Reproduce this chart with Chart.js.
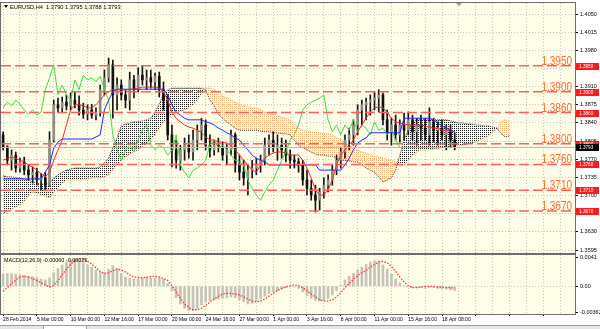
<!DOCTYPE html>
<html><head><meta charset="utf-8">
<script src="https://cdn.jsdelivr.net/npm/chart.js@4.4.1/dist/chart.umd.min.js"></script>
<style>
html,body{margin:0;padding:0;background:#fff;width:600px;height:329px;overflow:hidden;}
#wrap{position:relative;width:600px;height:329px;}
canvas{position:absolute;left:0;}
#main{top:0;width:600px;height:254px;}
#macd{top:254px;width:600px;height:71px;}
#tabs{position:absolute;left:0;top:325px;width:600px;height:4px;background:#e6e6e6;border-top:1px solid #9a9a9a;}
#tab1{position:absolute;left:43px;top:0;width:42px;height:4px;background:#fff;border-left:1px solid #9a9a9a;border-right:1px solid #9a9a9a;}
</style></head><body>
<div id="wrap">
<canvas id="main" width="600" height="254"></canvas>
<canvas id="macd" width="600" height="71"></canvas>
<div id="tabs"><div id="tab1"></div></div>
</div>
<script>
// ---------- labels / ticks ----------
const dateLabels = ['28 Feb 2014','5 Mar 00:00','10 Mar 00:00','12 Mar 16:00','17 Mar 00:00','20 Mar 00:00','24 Mar 16:00','27 Mar 00:00','1 Apr 00:00','3 Apr 16:00','8 Apr 00:00','11 Apr 00:00','15 Apr 16:00','18 Apr 08:00'];
const priceTicks = [1.3595,1.3630,1.3665,1.3700,1.3735,1.3770,1.3805,1.3840,1.3875,1.3910,1.3945,1.3980,1.4015,1.4050];
const levels = [1.3950,1.3900,1.3860,1.3800,1.3760,1.3710,1.3670];
const currentPrice = 1.3793;
const macdTickValues = [-0.00362, 0, 0.0041];
const macdTickLabels = ['-0.00362','0.00','0.0041'];
const titleText = 'EURUSD,H4  1.3790 1.3795 1.3788 1.3793';
const macdTitle = 'MACD(12,26,9) -0.00060 -0.00025';
const chikouShift = 13;   // 26 H4 bars (each candle here = 2 bars)
const slots = 136;
const shiftMarkerIndex = 108;

// ---------- candles ----------
const opens = [
1.3817,1.3794,1.3768,1.3778,1.3753,1.3765,1.3749,1.3740,1.3745,1.3730,
1.3734,1.3720,1.3807,1.3875,1.3869,1.3880,1.3873,1.3884,1.3876,1.3865,
1.3857,1.3865,1.3855,1.3861,1.3904,1.3927,1.3952,1.3894,1.3913,1.3894,
1.3884,1.3923,1.3904,1.3932,1.3923,1.3927,1.3919,1.3930,1.3904,1.3884,
1.3817,1.3788,1.3768,1.3788,1.3797,1.3784,1.3807,1.3826,1.3836,1.3797,
1.3788,1.3797,1.3792,1.3778,1.3788,1.3817,1.3759,1.3745,1.3734,1.3749,
1.3753,1.3759,1.3768,1.3797,1.3807,1.3792,1.3797,1.3788,1.3778,1.3768,
1.3765,1.3759,1.3730,1.3714,1.3701,1.3691,1.3707,1.3720,1.3730,1.3749,
1.3768,1.3784,1.3807,1.3817,1.3836,1.3865,1.3875,1.3880,1.3884,1.3888,
1.3894,1.3846,1.3823,1.3836,1.3817,1.3836,1.3826,1.3846,1.3823,1.3836,
1.3830,1.3817,1.3842,1.3826,1.3830,1.3817,1.3826,1.3807];
const highs = [
1.3823,1.3796,1.3788,1.3784,1.3772,1.3774,1.3759,1.3755,1.3753,1.3743,
1.3745,1.3823,1.3884,1.3888,1.3890,1.3894,1.3898,1.3900,1.3892,1.3878,
1.3875,1.3876,1.3869,1.3913,1.3942,1.3965,1.3961,1.3927,1.3923,1.3904,
1.3938,1.3932,1.3946,1.3950,1.3942,1.3942,1.3936,1.3938,1.3919,1.3894,
1.3836,1.3807,1.3797,1.3811,1.3817,1.3826,1.3836,1.3849,1.3846,1.3817,
1.3807,1.3811,1.3803,1.3801,1.3826,1.3821,1.3778,1.3768,1.3759,1.3768,
1.3772,1.3778,1.3811,1.3817,1.3823,1.3817,1.3811,1.3807,1.3788,1.3778,
1.3772,1.3768,1.3749,1.3730,1.3720,1.3714,1.3734,1.3740,1.3759,1.3778,
1.3792,1.3817,1.3830,1.3846,1.3875,1.3884,1.3888,1.3894,1.3900,1.3904,
1.3898,1.3865,1.3849,1.3855,1.3846,1.3859,1.3861,1.3855,1.3849,1.3855,
1.3849,1.3869,1.3849,1.3842,1.3846,1.3836,1.3836,1.3821];
const lows = [
1.3788,1.3759,1.3749,1.3745,1.3745,1.3740,1.3730,1.3724,1.3720,1.3711,
1.3709,1.3718,1.3803,1.3861,1.3861,1.3865,1.3865,1.3869,1.3855,1.3849,
1.3846,1.3849,1.3846,1.3853,1.3894,1.3919,1.3849,1.3865,1.3884,1.3869,
1.3865,1.3888,1.3900,1.3913,1.3904,1.3907,1.3904,1.3890,1.3865,1.3807,
1.3755,1.3753,1.3749,1.3768,1.3772,1.3768,1.3788,1.3807,1.3788,1.3774,
1.3778,1.3784,1.3768,1.3759,1.3778,1.3745,1.3730,1.3720,1.3701,1.3734,
1.3740,1.3745,1.3759,1.3778,1.3784,1.3768,1.3772,1.3765,1.3753,1.3753,
1.3745,1.3720,1.3701,1.3691,1.3668,1.3672,1.3695,1.3707,1.3720,1.3740,
1.3753,1.3772,1.3788,1.3797,1.3817,1.3836,1.3846,1.3855,1.3865,1.3861,
1.3836,1.3807,1.3797,1.3807,1.3803,1.3807,1.3817,1.3807,1.3797,1.3807,
1.3807,1.3797,1.3803,1.3797,1.3807,1.3788,1.3792,1.3788];
const closes = [
1.3794,1.3768,1.3778,1.3753,1.3765,1.3749,1.3740,1.3745,1.3730,1.3734,
1.3720,1.3807,1.3875,1.3869,1.3880,1.3873,1.3884,1.3876,1.3865,1.3857,
1.3865,1.3855,1.3861,1.3904,1.3927,1.3952,1.3894,1.3913,1.3894,1.3884,
1.3923,1.3904,1.3932,1.3923,1.3927,1.3919,1.3930,1.3904,1.3884,1.3817,
1.3788,1.3768,1.3788,1.3797,1.3784,1.3807,1.3826,1.3836,1.3797,1.3788,
1.3797,1.3792,1.3778,1.3788,1.3817,1.3759,1.3745,1.3734,1.3749,1.3753,
1.3759,1.3768,1.3797,1.3807,1.3792,1.3797,1.3788,1.3778,1.3768,1.3765,
1.3759,1.3730,1.3714,1.3701,1.3691,1.3707,1.3720,1.3730,1.3749,1.3768,
1.3784,1.3807,1.3817,1.3836,1.3865,1.3875,1.3880,1.3884,1.3888,1.3894,
1.3846,1.3823,1.3836,1.3817,1.3836,1.3826,1.3846,1.3823,1.3836,1.3830,
1.3817,1.3842,1.3826,1.3830,1.3817,1.3826,1.3807,1.3793];

// ---------- Ichimoku ----------
const tenkan = [
1.3768,1.3772,1.3774,1.3772,1.3768,1.3765,1.3759,1.3755,1.3749,1.3742,
1.3736,1.3745,1.3768,1.3788,1.3807,1.3836,1.3865,1.3875,1.3875,1.3873,
1.3869,1.3869,1.3875,1.3884,1.3894,1.3900,1.3904,1.3904,1.3904,1.3904,
1.3904,1.3905,1.3907,1.3909,1.3909,1.3909,1.3909,1.3907,1.3900,1.3884,
1.3861,1.3849,1.3842,1.3836,1.3832,1.3830,1.3826,1.3821,1.3813,1.3807,
1.3807,1.3803,1.3803,1.3801,1.3797,1.3788,1.3778,1.3768,1.3759,1.3749,
1.3745,1.3759,1.3772,1.3778,1.3782,1.3784,1.3784,1.3782,1.3778,1.3778,
1.3778,1.3768,1.3753,1.3734,1.3711,1.3701,1.3701,1.3711,1.3730,1.3759,
1.3778,1.3788,1.3797,1.3807,1.3823,1.3836,1.3849,1.3861,1.3869,1.3871,
1.3869,1.3861,1.3849,1.3842,1.3840,1.3838,1.3836,1.3836,1.3836,1.3836,
1.3834,1.3832,1.3830,1.3830,1.3826,1.3826,1.3824,1.3823];
const kijun = [
1.3732,1.3732,1.3732,1.3732,1.3732,1.3732,1.3732,1.3732,1.3732,1.3732,
1.3745,1.3759,1.3792,1.3803,1.3809,1.3809,1.3809,1.3809,1.3809,1.3809,
1.3809,1.3809,1.3813,1.3817,1.3865,1.3884,1.3900,1.3905,1.3905,1.3905,
1.3905,1.3905,1.3905,1.3905,1.3905,1.3905,1.3905,1.3905,1.3905,1.3894,
1.3875,1.3861,1.3855,1.3849,1.3846,1.3846,1.3846,1.3846,1.3842,1.3840,
1.3836,1.3830,1.3826,1.3821,1.3817,1.3811,1.3807,1.3797,1.3788,1.3778,
1.3772,1.3768,1.3765,1.3759,1.3759,1.3759,1.3759,1.3759,1.3759,1.3759,
1.3759,1.3759,1.3759,1.3759,1.3759,1.3749,1.3749,1.3749,1.3749,1.3749,
1.3749,1.3759,1.3772,1.3788,1.3801,1.3807,1.3811,1.3821,1.3821,1.3821,
1.3821,1.3821,1.3821,1.3821,1.3821,1.3849,1.3849,1.3849,1.3849,1.3849,
1.3849,1.3849,1.3846,1.3840,1.3834,1.3830,1.3826,1.3823];
const senkouA = [
1.3664,1.3670,1.3674,1.3678,1.3682,1.3689,1.3699,1.3707,1.3705,1.3701,
1.3699,1.3695,1.3707,1.3714,1.3724,1.3730,1.3730,1.3730,1.3730,1.3732,
1.3732,1.3734,1.3734,1.3734,1.3736,1.3740,1.3749,1.3759,1.3768,1.3774,
1.3780,1.3784,1.3788,1.3794,1.3801,1.3807,1.3817,1.3830,1.3842,1.3849,
1.3855,1.3859,1.3863,1.3865,1.3869,1.3875,1.3884,1.3896,1.3907,1.3907,
1.3904,1.3898,1.3892,1.3888,1.3884,1.3880,1.3876,1.3873,1.3871,1.3869,
1.3869,1.3865,1.3861,1.3859,1.3857,1.3855,1.3851,1.3849,1.3846,1.3838,
1.3830,1.3826,1.3824,1.3823,1.3821,1.3821,1.3819,1.3819,1.3817,1.3811,
1.3807,1.3801,1.3796,1.3792,1.3788,1.3784,1.3782,1.3778,1.3776,1.3774,
1.3772,1.3770,1.3768,1.3765,1.3757,1.3759,1.3768,1.3778,1.3784,1.3788,
1.3788,1.3788,1.3790,1.3790,1.3792,1.3792,1.3794,1.3796,1.3796,1.3797,
1.3799,1.3801,1.3803,1.3807,1.3811,1.3815,1.3823,1.3828,1.3842,1.3846,
1.3842];
const senkouB = [
1.3738,1.3736,1.3736,1.3734,1.3734,1.3732,1.3730,1.3726,1.3724,1.3722,
1.3722,1.3724,1.3734,1.3740,1.3745,1.3749,1.3751,1.3753,1.3753,1.3753,
1.3753,1.3753,1.3753,1.3755,1.3763,1.3772,1.3792,1.3811,1.3834,1.3838,
1.3840,1.3842,1.3842,1.3844,1.3846,1.3849,1.3861,1.3876,1.3896,1.3904,
1.3907,1.3907,1.3907,1.3907,1.3907,1.3907,1.3907,1.3907,1.3904,1.3884,
1.3873,1.3857,1.3849,1.3842,1.3836,1.3830,1.3826,1.3826,1.3826,1.3826,
1.3826,1.3824,1.3823,1.3823,1.3821,1.3821,1.3819,1.3819,1.3817,1.3807,
1.3797,1.3792,1.3788,1.3784,1.3780,1.3778,1.3778,1.3776,1.3776,1.3772,
1.3768,1.3768,1.3767,1.3765,1.3765,1.3759,1.3753,1.3749,1.3745,1.3736,
1.3726,1.3730,1.3734,1.3749,1.3778,1.3807,1.3826,1.3842,1.3846,1.3846,
1.3846,1.3846,1.3846,1.3846,1.3846,1.3846,1.3844,1.3842,1.3840,1.3840,
1.3838,1.3838,1.3836,1.3836,1.3834,1.3834,1.3832,1.3830,1.3819,1.3813,
1.3815];

// ---------- MACD ----------
const macdHist = [
0.0017,0.0018,0.0018,0.0017,0.0016,0.0015,0.0014,0.0013,0.0012,0.0010,
0.0009,0.0012,0.0019,0.0025,0.0030,0.0034,0.0037,0.0038,0.0036,0.0033,
0.0030,0.0027,0.0023,0.0020,0.0019,0.0024,0.0029,0.0025,0.0018,0.0013,
0.0011,0.0010,0.0010,0.0011,0.0012,0.0012,0.0012,0.0012,0.0010,0.0004,
-0.0006,-0.0016,-0.0025,-0.0031,-0.0034,-0.0034,-0.0031,-0.0026,-0.0022,-0.0020,
-0.0019,-0.0018,-0.0017,-0.0016,-0.0015,-0.0016,-0.0019,-0.0022,-0.0025,-0.0024,
-0.0021,-0.0018,-0.0014,-0.0010,-0.0008,-0.0006,-0.0004,-0.0002,-0.0001,-0.0001,
-0.0003,-0.0008,-0.0013,-0.0017,-0.0020,-0.0021,-0.0020,-0.0017,-0.0012,-0.0006,
0.0002,0.0009,0.0014,0.0018,0.0023,0.0027,0.0031,0.0034,0.0036,0.0035,
0.0030,0.0024,0.0017,0.0010,0.0005,0.0001,-0.0001,-0.0002,-0.0002,-0.0002,
-0.0003,-0.0002,-0.0002,-0.0003,-0.0004,-0.0004,-0.0005,-0.0006];
const macdSignal = [
-0.0007,-0.0002,0.0004,0.0009,0.0013,0.0014,0.0013,0.0011,0.0008,0.0005,
0.0002,-0.0001,0.0001,0.0008,0.0016,0.0024,0.0031,0.0036,0.0039,0.0038,
0.0035,0.0031,0.0026,0.0021,0.0018,0.0019,0.0022,0.0024,0.0023,0.0020,
0.0016,0.0013,0.0012,0.0012,0.0013,0.0014,0.0014,0.0013,0.0011,0.0008,
0.0001,-0.0008,-0.0017,-0.0025,-0.0030,-0.0033,-0.0033,-0.0031,-0.0027,-0.0022,
-0.0018,-0.0014,-0.0011,-0.0010,-0.0010,-0.0011,-0.0012,-0.0015,-0.0018,-0.0021,
-0.0022,-0.0021,-0.0018,-0.0014,-0.0010,-0.0006,-0.0003,-0.0001,0.0001,0.0002,
0.0001,-0.0002,-0.0006,-0.0011,-0.0015,-0.0019,-0.0021,-0.0021,-0.0019,-0.0015,
-0.0009,-0.0002,0.0004,0.0010,0.0015,0.0019,0.0022,0.0027,0.0031,0.0034,
0.0035,0.0033,0.0028,0.0021,0.0013,0.0006,0.0001,-0.0002,-0.0002,-0.0001,
0.0000,0.0000,0.0000,-0.0001,-0.0001,-0.0002,-0.0002,-0.00025];

// ---------- styling ----------
const FONT = "'Liberation Sans','Arial',sans-serif";
const BG = '#fefde8';
const GRID = '#c6c6be';
const CLEAR = 'rgba(0,0,0,0)';
const LEVEL = '#ff5e5e';
const LEVEL_TEXT = '#ff6c32';
Chart.defaults.font.family = FONT;
Chart.defaults.font.size = 5;
Chart.defaults.color = '#000';

const slotLabels = Array.from({length: slots}, (_, i) => String(i));
const wicks = lows.map((l, i) => [l, highs[i]]);
const bodies = opens.map((o, i) => [o, closes[i]]);
const bodyColors = opens.map((o, i) => closes[i] >= o ? '#8e8e84' : '#111111');
const chikou = closes.slice(chikouShift);

function dotPattern(color) {
  const c = document.createElement('canvas'); c.width = 2; c.height = 2;
  const g = c.getContext('2d'); g.fillStyle = color; g.fillRect(0, 0, 1, 1);
  return document.getElementById('main').getContext('2d').createPattern(c, 'repeat');
}
const orangeDots = dotPattern('#f7b47c');
const blackDots = dotPattern('#202020');

function narrowText(ctx, txt, x, y, size, sx) {
  ctx.save(); ctx.font = size + 'px ' + FONT; ctx.translate(x, y); ctx.scale(sx, 1);
  ctx.fillText(txt, 0, 0); ctx.restore();
}
function paintBg(chart) {
  const {ctx, chartArea: a} = chart;
  ctx.save();
  ctx.fillStyle = '#ffffff'; ctx.fillRect(0, 0, chart.width, chart.height);
  ctx.fillStyle = BG; ctx.fillRect(a.left, a.top, a.right - a.left, a.bottom - a.top);
  ctx.restore();
}
function frame(chart) {
  const {ctx, chartArea: a} = chart;
  ctx.save(); ctx.strokeStyle = '#6e6e6e'; ctx.lineWidth = 1;
  ctx.strokeRect(a.left - 0.5, a.top - 0.5, a.right - a.left + 1, a.bottom - a.top + 1);
  ctx.restore();
}

const mainDeco = {
  id: 'mainDeco',
  beforeDraw: paintBg,
  afterDatasetsDraw(chart) {
    const {ctx, chartArea: a, scales: {y}} = chart;
    ctx.save();
    ctx.beginPath(); ctx.rect(a.left, a.top, a.right - a.left, a.bottom - a.top); ctx.clip();
    const yc = Math.round(y.getPixelForValue(currentPrice)) + 0.5;
    ctx.strokeStyle = '#b8b8b8'; ctx.lineWidth = 1;
    ctx.beginPath(); ctx.moveTo(a.left, yc); ctx.lineTo(a.right, yc); ctx.stroke();
    ctx.strokeStyle = LEVEL; ctx.lineWidth = 1.5; ctx.setLineDash([10, 4]);
    levels.forEach(v => {
      const py = y.getPixelForValue(v);
      ctx.beginPath(); ctx.moveTo(a.left, py); ctx.lineTo(a.right, py); ctx.stroke();
    });
    ctx.setLineDash([]);
    ctx.fillStyle = LEVEL_TEXT; ctx.font = '12px ' + FONT;
    ctx.textAlign = 'right'; ctx.textBaseline = 'alphabetic';
    levels.forEach(v => {
      const txt = v.toFixed(4);
      const py = y.getPixelForValue(v);
      const w = ctx.measureText(txt).width;
      const sx = Math.min(1, 30.5 / w);
      ctx.save(); ctx.translate(a.right - 3, py - 1); ctx.scale(sx, 1);
      ctx.fillText(txt, 0, 0); ctx.restore();
    });
    ctx.restore();
  },
  afterDraw(chart) {
    const {ctx, chartArea: a, scales: {x, y}} = chart;
    frame(chart);
    ctx.save();
    ctx.textBaseline = 'middle'; ctx.textAlign = 'left';
    const tag = (v, bg) => {
      const py = Math.round(y.getPixelForValue(v));
      ctx.fillStyle = bg; ctx.fillRect(a.right + 1, py - 3, 23, 7);
      ctx.fillStyle = '#fff'; narrowText(ctx, v.toFixed(4), a.right + 4, py + 0.5, 5.5, 0.85);
    };
    levels.forEach(v => tag(v, '#ff1a1a'));
    tag(currentPrice, '#000');
    // title
    ctx.fillStyle = '#000';
    ctx.beginPath(); ctx.moveTo(4, 5); ctx.lineTo(8, 5); ctx.lineTo(6, 8); ctx.closePath(); ctx.fill();
    narrowText(ctx, titleText, 10, 7, 6, 0.95);
    // chart shift marker
    const mx = x.getPixelForValue(shiftMarkerIndex);
    ctx.fillStyle = '#9a9a9a';
    ctx.beginPath(); ctx.moveTo(mx - 3, a.top); ctx.lineTo(mx + 3, a.top); ctx.lineTo(mx, a.top + 3); ctx.closePath(); ctx.fill();
    ctx.restore();
  }
};

const lineDs = (label, data, color, order, extra) => Object.assign({
  type: 'line', label, data, borderColor: color, borderWidth: 1, pointRadius: 0,
  tension: 0, fill: false, order
}, extra || {});

new Chart(document.getElementById('main').getContext('2d'), {
  type: 'bar',
  data: {
    labels: slotLabels,
    datasets: [
      lineDs('Senkou Span A', senkouA, '#f0a050', 10, {borderDash: [1, 1], fill: {target: 1, above: orangeDots, below: blackDots}}),
      lineDs('Senkou Span B', senkouB, '#3a3a3a', 9, {borderDash: [1, 1]}),
      {type: 'bar', label: 'wick', data: wicks, backgroundColor: '#151515', barThickness: 1, grouped: false, borderWidth: 0, order: 8},
      {type: 'bar', label: 'body', data: bodies, backgroundColor: bodyColors, barThickness: 2, grouped: false, borderWidth: 0, order: 7},
      lineDs('Chikou Span', chikou, '#3ee03e', 3),
      lineDs('Kijun-sen', kijun, '#2626ff', 2),
      lineDs('Tenkan-sen', tenkan, '#ff2626', 1)
    ]
  },
  options: {
    responsive: false, animation: false, devicePixelRatio: 1, events: [],
    layout: {padding: {left: 1, top: 3, right: 0, bottom: 1}},
    plugins: {legend: {display: false}, tooltip: {enabled: false}},
    scales: {
      x: {
        type: 'category', offset: true,
        grid: {offset: false, drawTicks: false, color: c => (c.index % 4 === 0 ? GRID : CLEAR)},
        border: {display: false, dash: [1, 2]},
        ticks: {display: false, autoSkip: false},
        afterFit: s => { s.height = 0; s.paddingLeft = 0; s.paddingRight = 0; }
      },
      y: {
        position: 'right', min: 1.358922, max: 1.407121,
        afterBuildTicks: s => { s.ticks = priceTicks.map(v => ({value: v})); },
        ticks: {callback: v => Number(v).toFixed(4), padding: 2, color: '#000', font: {size: 5.5}},
        grid: {color: GRID, tickColor: '#000', tickLength: 3},
        border: {display: true, color: '#555', dash: [1, 2]},
        afterFit: s => { s.width = 25; s.paddingTop = 0; s.paddingBottom = 0; }
      }
    }
  },
  plugins: [mainDeco]
});

const macdDeco = {
  id: 'macdDeco',
  beforeDraw: paintBg,
  afterDraw(chart) {
    frame(chart);
    const {ctx, chartArea: a} = chart;
    ctx.save(); ctx.fillStyle = '#000';
    ctx.textBaseline = 'middle'; ctx.textAlign = 'left';
    narrowText(ctx, macdTitle, a.left + 3, a.top + 5, 6, 0.9);
    ctx.restore();
  }
};

new Chart(document.getElementById('macd').getContext('2d'), {
  type: 'bar',
  data: {
    labels: slotLabels,
    datasets: [
      {type: 'bar', label: 'MACD', data: macdHist, backgroundColor: '#c4c4ba', barThickness: 2, borderWidth: 0, order: 2},
      lineDs('Signal', macdSignal, '#ff3434', 1, {borderDash: [1.5, 1.5], borderWidth: 1.3})
    ]
  },
  options: {
    responsive: false, animation: false, devicePixelRatio: 1, events: [],
    layout: {padding: {left: 1, top: 1, right: 0, bottom: 0}},
    plugins: {legend: {display: false}, tooltip: {enabled: false}},
    scales: {
      x: {
        type: 'category', offset: true,
        grid: {offset: false, drawTicks: true, tickLength: 2,
               color: c => (c.index % 4 === 0 ? GRID : CLEAR),
               tickColor: c => (c.index % 8 === 0 ? '#000' : CLEAR)},
        border: {display: true, color: '#555', dash: [1, 2]},
        ticks: {autoSkip: false, maxRotation: 0, minRotation: 0, align: 'start', padding: 1, color: '#000', font: {size: 5},
                callback: (v, i) => (i % 8 === 0 && dateLabels[i / 8] !== undefined ? dateLabels[i / 8] : '')},
        afterFit: s => { s.height = 11; s.paddingLeft = 0; s.paddingRight = 0; }
      },
      y: {
        position: 'right', min: -0.0039, max: 0.0044,
        afterBuildTicks: s => { s.ticks = macdTickValues.map(v => ({value: v})); },
        ticks: {callback: v => macdTickLabels[macdTickValues.indexOf(v)], padding: 2, color: '#000', font: {size: 5.5}},
        grid: {color: c => (c.tick && c.tick.value === 0 ? GRID : CLEAR), tickColor: '#000', tickLength: 3},
        border: {display: true, color: '#555', dash: [1, 2]},
        afterFit: s => { s.width = 25; s.paddingTop = 0; s.paddingBottom = 0; }
      }
    }
  },
  plugins: [macdDeco]
});
</script>
</body></html>
